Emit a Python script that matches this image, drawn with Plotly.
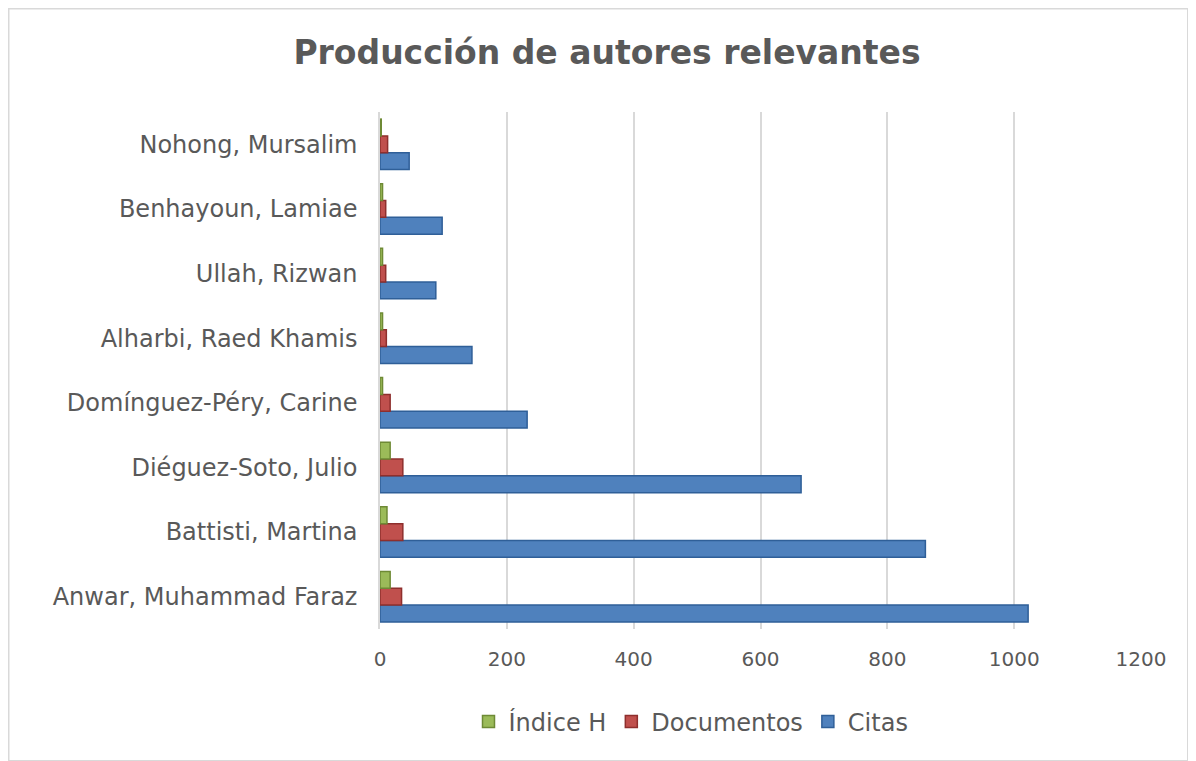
import plotly.graph_objects as go

authors = ["Anwar, Muhammad Faraz", "Battisti, Martina", "Diéguez-Soto, Julio",
           "Domínguez-Péry, Carine", "Alharbi, Raed Khamis", "Ullah, Rizwan",
           "Benhayoun, Lamiae", "Nohong, Mursalim"]
citas = [1022, 860, 664, 232, 145, 88, 98, 46]
documentos = [34, 36, 36, 16, 10, 9, 9, 12]
indice_h = [16, 11, 16, 4, 4, 4, 4, 2]
x_ticks = [0, 200, 400, 600, 800, 1000, 1200]

# page body has an 8px margin, so the figure div starts at (8, 8)
OFF = 8
W, H = 1196 - OFF, 761 - OFF
L, R, T, B = 380 - OFF, 55, 112 - OFF, 132

FONT = "DejaVu Sans"
GREY = "#595959"

fig = go.Figure()
fig.add_trace(go.Bar(y=authors, x=citas, orientation="h", name="Citas",
                     marker=dict(color="#4F81BD", line=dict(color="#2F5F98", width=1.5))))
fig.add_trace(go.Bar(y=authors, x=documentos, orientation="h", name="Documentos",
                     marker=dict(color="#C0504D", line=dict(color="#8E2F2D", width=1.5))))
fig.add_trace(go.Bar(y=authors, x=indice_h, orientation="h", name="Índice H",
                     marker=dict(color="#9BBB59", line=dict(color="#6E8A35", width=1.5))))

pw = W - L - R
ph = H - T - B

fig.update_layout(
    width=W, height=H,
    margin=dict(l=L, r=R, t=T, b=B, autoexpand=False),
    paper_bgcolor="white", plot_bgcolor="white",
    barmode="group", bargap=0.22, bargroupgap=0.0,
    font=dict(family=FONT, color=GREY),
    title=dict(text="<b>Producción de autores relevantes</b>", x=(607 - OFF) / W, xanchor="center",
               y=1 - (52 - OFF) / H, yanchor="middle", font=dict(size=33, color=GREY, family=FONT)),
    xaxis=dict(range=[0, 1200], tickvals=x_ticks, showgrid=True, gridcolor="#D9D9D9", gridwidth=1.5,
               zeroline=False, showline=False, tickfont=dict(size=20, color=GREY), ticks="",
               ticklabelstandoff=16),
    yaxis=dict(showline=True, linecolor="#D9D9D9", linewidth=1.5, ticks="",
               tickfont=dict(size=24, color=GREY), ticklabelstandoff=16),
    legend=dict(orientation="h", traceorder="reversed", x=(691 - 380) / pw, xanchor="center",
                y=-(722 - 629) / ph, yanchor="middle", font=dict(size=24, color=GREY),
                itemwidth=30),
    shapes=[dict(type="rect", xref="paper", yref="paper",
                 x0=-(L - 0.5) / pw, x1=1 + (R - 8) / pw,
                 y0=-B / ph, y1=1 + (T - 0.5) / ph,
                 line=dict(color="#D9D9D9", width=2), fillcolor="rgba(0,0,0,0)", layer="below")],
)

fig.write_html("out.html")
